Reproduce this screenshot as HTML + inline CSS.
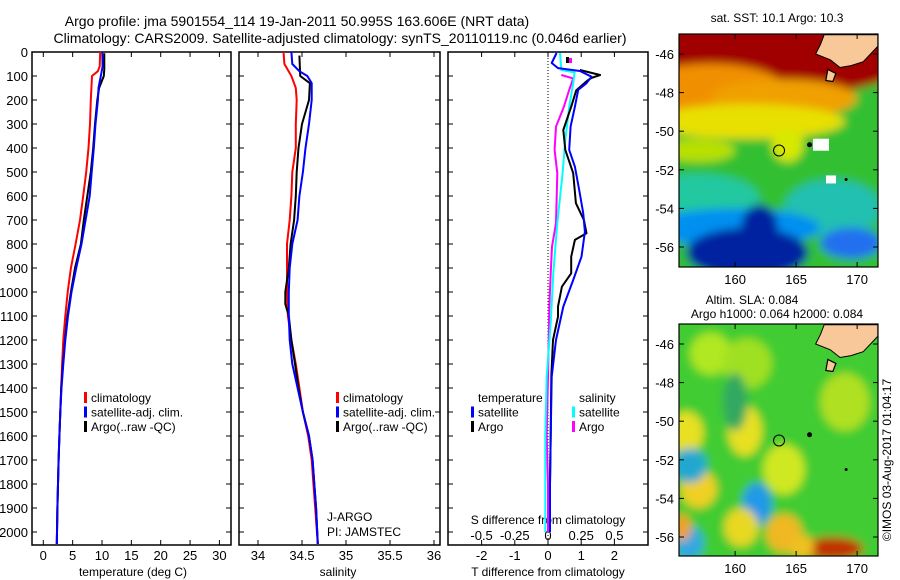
<!DOCTYPE html>
<html><head><meta charset="utf-8">
<style>
body{margin:0;background:#fff;}
svg{display:block;font-family:"Liberation Sans",sans-serif;}
text{fill:#000;}
</style></head>
<body>
<svg id="c" width="900" height="580" viewBox="0 0 900 580" xmlns="http://www.w3.org/2000/svg">
<defs>
<filter id="bl" x="-10%" y="-10%" width="120%" height="120%"><feGaussianBlur stdDeviation="4.5"/></filter>
<clipPath id="clipTop"><rect x="679" y="34" width="199" height="233"/></clipPath>
<clipPath id="clipBot"><rect x="679" y="324" width="199" height="232"/></clipPath>
</defs>
<text x="297" y="26" font-size="14" text-anchor="middle">Argo profile: jma 5901554_114 19-Jan-2011 50.995S 163.606E (NRT data)</text>
<text x="340" y="43" font-size="14" text-anchor="middle">Climatology: CARS2009. Satellite-adjusted climatology: synTS_20110119.nc (0.046d earlier)</text>
<g id="g"></g>
</svg>
<script>
// ---- depth axis ----
const depthTicks = [0,100,200,300,400,500,600,700,800,900,1000,1100,1200,1300,1400,1500,1600,1700,1800,1900,2000];
// ---- temperature panel ----
const tempTicks = [0,5,10,15,20,25,30];
const tempClimDepth = [0,60,80,100,200,300,400,500,600,700,800,900,1000,1100,1200,1300,1400,1500,1600,1700,1800,1900,2050];
const tempClim      = [9.7,9.6,9.3,8.3,8.1,7.95,7.7,7.3,6.8,6.25,5.5,4.7,4.15,3.75,3.4,3.2,3.05,2.9,2.75,2.6,2.5,2.4,2.3];
const tempSatDepth  = [0,60,100,150,200,300,400,500,600,700,800,900,1000,1100,1200,1300,1400,1500,1600,1700,1800,1900,2050];
const tempSat       = [10.05,10.1,9.8,9.4,9.3,8.9,8.6,8.25,7.9,7.2,6.5,5.6,4.8,4.2,3.75,3.4,3.1,2.9,2.75,2.6,2.5,2.4,2.3];
const tempArgoDepth = [5,40,70,100,150,200,300,400,500,600,700,800,900,1000,1100,1200,1300,1400,1500,1600,1700,1800,1900,2050];
const tempArgo      = [10.4,10.4,10.4,10.3,9.5,9.2,8.8,8.5,8.1,7.5,6.9,6.4,5.4,4.7,4.1,3.7,3.35,3.05,2.9,2.75,2.6,2.5,2.4,2.3];
// ---- salinity panel ----
const salTicks = [34,34.5,35,35.5,36];
const salClimDepth = [0,50,100,150,200,300,400,500,600,700,800,900,1000,1100,1200,1300,1400,1500,1600,1700,1800,1900,2050];
const salClim      = [34.29,34.3,34.38,34.43,34.44,34.43,34.43,34.39,34.38,34.36,34.33,34.33,34.33,34.34,34.38,34.43,34.47,34.51,34.57,34.61,34.63,34.65,34.68];
const salSatDepth  = [0,50,80,100,130,200,300,400,500,600,700,800,900,1000,1100,1200,1300,1400,1500,1600,1700,1800,1900,2050];
const salSat       = [34.38,34.39,34.47,34.56,34.61,34.61,34.58,34.54,34.51,34.47,34.45,34.39,34.36,34.35,34.35,34.36,34.39,34.45,34.51,34.58,34.62,34.64,34.66,34.68];
const salArgoDepth = [15,100,130,200,300,400,500,600,700,800,900,1000,1050,1100,1200,1300,1400,1500,1600,1700,1800,1900,2050];
const salArgo      = [34.47,34.48,34.59,34.58,34.5,34.46,34.44,34.43,34.41,34.37,34.35,34.31,34.31,34.35,34.38,34.42,34.46,34.51,34.58,34.62,34.64,34.66,34.68];
// ---- difference panel ----
const tdiffTicks = [-2,-1,0,1,2];
const sdiffTicks = [-0.5,-0.25,0,0.25,0.5];
const sdiffTickLabels = ["-0.5","-0.25","0","0.25","0.5"];
const tdSatDepth  = [4,46,67,79,103,130,158,228,311,408,478,575,671,749,853,950,1061,1200,1353,1600,1800,2000];
const tdSat       = [0.26,0.11,0.3,0.96,1.31,1.16,0.91,0.81,0.68,0.64,0.81,0.94,1.06,1.11,1.01,0.76,0.46,0.24,0.11,0.08,0.06,0.06];
const tdArgoDepth = [75,96,108,118,160,228,325,408,505,630,700,755,783,853,922,978,1061,1103,1200,1353,1600,1800,2000];
const tdArgo      = [0.96,1.57,1.31,1.2,0.85,0.7,0.46,0.52,0.76,0.84,1.08,1.16,0.81,0.7,0.7,0.42,0.3,0.3,0.15,0.1,0.08,0.06,0.06];
const sdSatDepth  = [4,75,85,130,228,367,505,713,922,1130,1353,1600,1800,2000];
const sdSat       = [0.09,0.1,0.2,0.19,0.16,0.13,0.11,0.07,0.04,0.02,-0.01,-0.02,-0.02,-0.02];
const sdArgoDepth = [96,110,158,228,311,408,505,713,811,922,1061,1353,1600,1800,2000];
const sdArgo      = [0.1,0.19,0.16,0.12,0.06,0.05,0.07,0.06,0.03,0.02,0.01,0,-0.01,0,0];

const NS='http://www.w3.org/2000/svg';
const G=document.getElementById('g');
function el(tag,attrs,parent){const e=document.createElementNS(NS,tag);for(const k in attrs)e.setAttribute(k,attrs[k]);(parent||G).appendChild(e);return e;}
function txt(x,y,s,size,anchor,parent){const t=el('text',{x:x,y:y,'font-size':size,'text-anchor':anchor||'middle'},parent);t.textContent=s;return t;}

const TOP=52, BOT=545;
function yD(d){return TOP+d*0.24;}
const P1={l:32,r:231}, P2={l:239,r:440}, P3={l:448,r:648};
function xT(v){return 43.3+v*5.87;}
function xS(v){return 258+(v-34)*88;}
function xTd(v){return 548+v*33.2;}
function xSd(v){return 548+v*4*33.2;}

function frame(p,name){
  const r=el('rect',{x:p.l,y:TOP,width:p.r-p.l,height:BOT-TOP,fill:'none',stroke:'#000','stroke-width':1.5});
  
  
}
function xticks(p,vals,fx,labels,name){
  const g=el('g',{});
  
  
  vals.forEach((v,i)=>{const x=fx(v);
    el('line',{x1:x,x2:x,y1:TOP,y2:TOP+5,stroke:'#000'},g);
    el('line',{x1:x,x2:x,y1:BOT,y2:BOT-5,stroke:'#000'},g);
    txt(x,560,labels?labels[i]:String(v),13,'middle',g);});
}
function line(ds,vs,fx,color,name){
  const pts=ds.map((d,i)=>fx(vs[i]).toFixed(1)+','+yD(d).toFixed(1)).join(' ');
  const p=el('polyline',{points:pts,fill:'none',stroke:color,'stroke-width':2,'stroke-linejoin':'round'});
  
  
}
function legend(x,y,items,name){
  const g=el('g',{});
  
  
  items.forEach((it,i)=>{const yy=y+i*14.5;
    if(it[1])el('rect',{x:x,y:yy-10,width:3,height:11,fill:it[1]},g);
    txt(x+7,yy,it[0],12,'start',g);});
}

frame(P1,'temperature-panel-frame');frame(P2,'salinity-panel-frame');frame(P3,'difference-panel-frame');
const yt=el('g',{});


depthTicks.forEach(d=>{const y=yD(d);
  [P1,P2,P3].forEach(p=>{el('line',{x1:p.l,x2:p.l+5,y1:y,y2:y,stroke:'#000'},yt);el('line',{x1:p.r,x2:p.r-5,y1:y,y2:y,stroke:'#000'},yt);});
  txt(28,y+5,String(d),13,'end',yt);});

xticks(P1,tempTicks,xT,null,'temperature-x-axis');
txt(133,576,'temperature (deg C)',12,'middle');
line(tempClimDepth,tempClim,xT,'#ff0000','temp-climatology-line');
line(tempArgoDepth,tempArgo,xT,'#000000','temp-argo-line');
line(tempSatDepth,tempSat,xT,'#0000ff','temp-satellite-line');
legend(84,402,[['climatology','#ff0000'],['satellite-adj. clim.','#0000ff'],['Argo(..raw -QC)','#000']],'temperature-legend');

xticks(P2,salTicks,xS,null,'salinity-x-axis');
txt(338,576,'salinity',12,'middle');
line(salClimDepth,salClim,xS,'#ff0000','sal-climatology-line');
line(salArgoDepth,salArgo,xS,'#000000','sal-argo-line');
line(salSatDepth,salSat,xS,'#0000ff','sal-satellite-line');
legend(336,402,[['climatology','#ff0000'],['satellite-adj. clim.','#0000ff'],['Argo(..raw -QC)','#000']],'salinity-legend');
txt(327,521,'J-ARGO',12,'start');
txt(327,536,'PI: JAMSTEC',12,'start');

el('line',{x1:xTd(0),x2:xTd(0),y1:TOP,y2:BOT,stroke:'#000','stroke-dasharray':'1,2'});
xticks(P3,tdiffTicks,xTd,null,'t-difference-x-axis');
const sg=el('g',{});


sdiffTicks.forEach((v,i)=>txt(xSd(v),540,sdiffTickLabels[i],13,'middle',sg));
txt(548,524,'S difference from climatology',12,'middle');
txt(548,576,'T difference from climatology',12,'middle');
line(sdArgoDepth,sdArgo,xSd,'#ff00ff','s-diff-argo-line');
line(sdSatDepth,sdSat,xSd,'#00ffff','s-diff-satellite-line');
line(tdArgoDepth,tdArgo,xTd,'#000000','t-diff-argo-line');
line(tdSatDepth,tdSat,xTd,'#0000ff','t-diff-satellite-line');
el('rect',{x:566,y:57,width:3,height:6,fill:'#000'});
el('rect',{x:569,y:58,width:3,height:5,fill:'#ff00ff'});
legend(471,402,[['temperature',null],['satellite','#0000ff'],['Argo','#000']],'t-diff-legend');
legend(572,402,[['salinity',null],['satellite','#00ffff'],['Argo','#ff00ff']],'s-diff-legend');

function mx(lon){return 679+(lon-155.4)*12.2;}
function mapAxes(y0,y1,latY,name){
  const g=el('g',{});
  
  
  el('rect',{x:679,y:y0,width:199,height:y1-y0,fill:'none',stroke:'#000','stroke-width':1.2},g);
  [160,165,170].forEach(l=>{const x=mx(l);el('line',{x1:x,x2:x,y1:y1,y2:y1-5,stroke:'#000'},g);el('line',{x1:x,x2:x,y1:y0,y2:y0+5,stroke:'#000'},g);txt(x,y1+17,String(l),13,'middle',g);});
  [-46,-48,-50,-52,-54,-56].forEach(l=>{const y=latY(l);el('line',{x1:679,x2:684,y1:y,y2:y,stroke:'#000'},g);el('line',{x1:878,x2:873,y1:y,y2:y,stroke:'#000'},g);txt(674,y+5,String(l),13,'end',g);});
}
function land(latY,g){
  el('path',{d:`M${mx(167.3)},${latY(-45)} L${mx(171.7)},${latY(-45)} L${mx(171.7)},${latY(-45.6)} L${mx(170.5)},${latY(-46.4)} L${mx(169.5)},${latY(-46.6)} L${mx(168.6)},${latY(-46.7)} L${mx(167.8)},${latY(-46.3)} L${mx(166.6)},${latY(-46.0)} L${mx(167)},${latY(-45.5)} Z`,fill:'#f8c898',stroke:'#000','stroke-width':1},g);
  el('path',{d:`M${mx(167.6)},${latY(-46.8)} l8,4 l-3,8 l-7,-1 Z`,fill:'#f8c898',stroke:'#000','stroke-width':1.2},g);
  el('circle',{cx:mx(166.1),cy:latY(-50.7),r:2.5,fill:'#000'},g);
  el('circle',{cx:mx(169.1),cy:latY(-52.5),r:1.5,fill:'#000'},g);
  el('circle',{cx:mx(163.6),cy:latY(-51),r:5.5,fill:'none',stroke:'#000','stroke-width':1},g);
}
function blobs(list,latY,g){
  list.forEach(b=>el('ellipse',{cx:mx(b[0]),cy:latY(b[1]),rx:b[2]*12.2,ry:b[3]*19.3,fill:b[4]},g));
}
const yTop=l=>54+(-46-l)*19.3;
const tm=el('g',{'clip-path':'url(#clipTop)'});


const tb=el('g',{filter:'url(#bl)'},tm);
el('rect',{x:660,y:20,width:240,height:260,fill:'#30c030'},tb);
blobs([[163,-46,12,2.2,'#a00000'],[158,-47.8,6,1.3,'#f09000'],[164,-48.3,6,1.0,'#f0a000'],[161,-49.5,8,0.9,'#e8e000'],[164.3,-50.7,1.3,0.9,'#d8e800'],[157,-51,3,0.6,'#b8e000'],[157,-53.5,5,1.3,'#20c8a0'],[168,-54,4,1.5,'#20c0b0'],[160,-55,7,1.0,'#0090f0'],[161,-56.3,5,1.3,'#0020a0'],[162,-55,1.5,1.2,'#0020a0'],[169.5,-55.8,2.5,0.8,'#2070f0']],yTop,tb);
el('rect',{x:813,y:yTop(-50.7)-6,width:16,height:12,fill:'#fff'},tm);
el('rect',{x:826,y:yTop(-52.5)-4,width:10,height:8,fill:'#fff'},tm);
land(yTop,tm);
mapAxes(34,267,yTop,'sst-map-axes');
txt(777,22,'sat. SST: 10.1 Argo: 10.3',12,'middle');

const yBot=l=>344+(-46-l)*19.3;
const bm=el('g',{'clip-path':'url(#clipBot)'});


const bb=el('g',{filter:'url(#bl)'},bm);
el('rect',{x:660,y:310,width:240,height:260,fill:'#40cc30'},bb);
blobs([[158,-46.5,1.7,1.1,'#b0e820'],[161,-47,2,1.3,'#a0e020'],[156,-50.6,1.4,1.1,'#e8e020'],[160.8,-50.5,1.4,1.3,'#e8e020'],[164,-52.5,1.7,1.3,'#d0e820'],[157,-53.5,1.5,1.0,'#f0d020'],[156.3,-52.3,1.4,0.9,'#20a8d0'],[161.8,-54.3,1.2,1.1,'#2098e8'],[156.2,-56.3,1.2,0.9,'#30a8e0'],[160.5,-55.5,1.4,1.0,'#e8d820'],[164,-55.8,1.5,1.0,'#f0b820'],[168,-56.6,2.5,0.6,'#c03000'],[165.5,-56.5,1,0.6,'#f0c020'],[160,-49,1,1.5,'#30a860'],[169,-49,2,1.5,'#b0e020'],[155.6,-55.5,0.8,0.7,'#f0a020']],yBot,bb);
land(yBot,bm);
mapAxes(324,556,yBot,'sla-map-axes');
txt(752,304,'Altim. SLA: 0.084',12,'middle');
txt(777,318,'Argo h1000: 0.064 h2000: 0.084',12,'middle');
const cr=txt(0,0,'©IMOS 03-Aug-2017 01:04:17',12,'middle');
cr.setAttribute('transform','translate(891,460) rotate(-90)');


</script>
</body></html>
